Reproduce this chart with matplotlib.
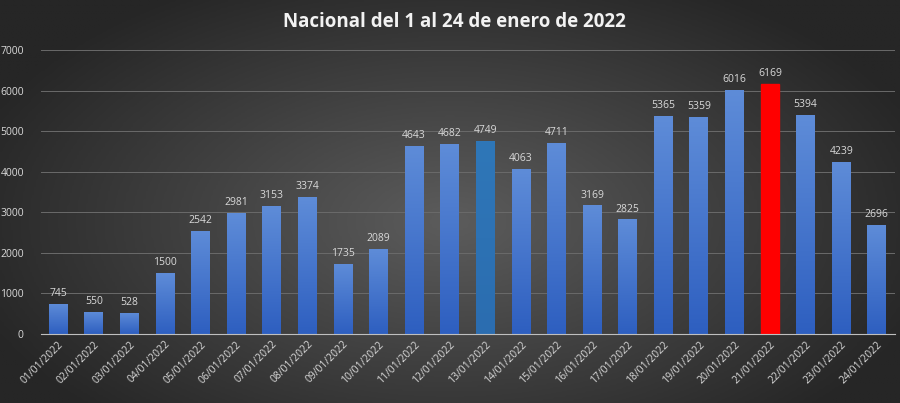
'''
Nacional del 1 al 24 de enero de 2022 - bar chart
'''

import numpy as np
import matplotlib.pyplot as plt
from matplotlib.colors import LinearSegmentedColormap

#########################################

dias=["%02d/01/2022"%d for d in range(1,25)]
casos=[745,550,528,1500,2542,2981,3153,3374,1735,2089,4643,4682,
       4749,4063,4711,3169,2825,5365,5359,6016,6169,5394,4239,2696]
yTicks=[0,1000,2000,3000,4000,5000,6000,7000]
titulo="Nacional del 1 al 24 de enero de 2022"

# special bars
idxSteel=12
idxRed=20

#########################################

plt.rcParams['font.family']=['Open Sans','DejaVu Sans']

fig=plt.figure(figsize=(9,4.03),dpi=100)

# radial background
bg=fig.add_axes([0,0,1,1])
yy,xx=np.mgrid[0:1:200j,0:1:400j]
r=np.sqrt(((xx-0.5)/0.75)**2+((yy-0.55)/0.9)**2)
bgCmap=LinearSegmentedColormap.from_list("bg",["#5c5c5c","#262626"])
bg.imshow(r,cmap=bgCmap,aspect='auto',extent=[0,1,0,1],vmin=0,vmax=0.75)
bg.set_axis_off()

ax=fig.add_axes([0.045,0.171,0.949,0.705])
ax.set_facecolor('none')
x=np.arange(len(casos))
bars=ax.bar(x,casos,width=0.53,color='#4472c4',zorder=2)

# gradient fill for bars
grad=np.linspace(0,1,100).reshape(-1,1)
blueCmap=LinearSegmentedColormap.from_list("b",["#2e5fc0","#5e8cd8"])
steelCmap=LinearSegmentedColormap.from_list("s",["#2b6db0","#2f77b8"])
for i,b in enumerate(bars):
  if(i==idxRed):
    b.set_color('#ff0000')
    continue
  cm=steelCmap if i==idxSteel else blueCmap
  im=ax.imshow(grad,cmap=cm,aspect='auto',origin='lower',
               extent=[b.get_x(),b.get_x()+b.get_width(),0,b.get_height()],zorder=3)
  im.set_clip_path(b)

for i,v in enumerate(casos):
  ax.text(i,v+120,str(v),ha='center',va='bottom',color='#d9d9d9',fontsize=7.5,zorder=4)

ax.set_xlim(-0.5,len(casos)-0.5)
ax.set_ylim(0,7000)
ax.set_yticks(yTicks)
ax.set_xticks(x)
ax.set_xticklabels(dias,rotation=45,ha='right',rotation_mode='anchor')
ax.tick_params(axis='both',colors='#d9d9d9',labelsize=7.5,length=0)
ax.tick_params(axis='y',pad=12)
ax.grid(axis='y',color='#6a6a6a',linewidth=0.7,zorder=0)
for s in ['top','right','left']:
  ax.spines[s].set_visible(False)
ax.spines['bottom'].set_color('#bfbfbf')
ax.spines['bottom'].set_zorder(5)

fig.text(0.505,0.945,titulo,ha='center',va='center',color='#f2f2f2',
         fontsize=13.5,fontweight='bold')

plt.savefig('out.png')
plt.close()
